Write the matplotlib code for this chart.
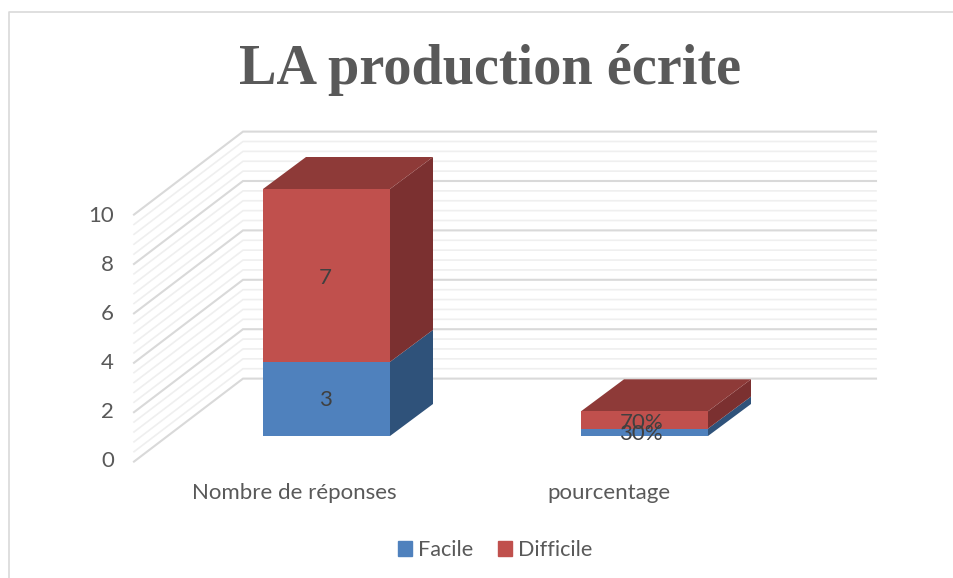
"""LA production ecrite: stacked pseudo-3D columns."""

import matplotlib
import matplotlib.pyplot as plt

matplotlib.use("Agg")

CATEGORIES = ["Nombre de réponses", "pourcentage"]
FACILE = [3, 0.3]
DIFFICILE = [7, 0.7]
FACILE_LABELS = ["3", "30%"]
DIFFICILE_LABELS = ["7", "70%"]
Y_TICKS = [0, 2, 4, 6, 8, 10]

TITLE = "LA production écrite"
BLUE, BLUE_SIDE = "#4F81BD", "#2F527A"
RED, RED_SIDE, RED_TOP = "#C0504D", "#7B3030", "#8E3A38"
GRID_MAJOR, GRID_MINOR = "#D9D9D9", "#EFEFEF"
TEXT = "#595959"
LABEL = "#404040"

W, H = 954, 578
# scale of the chart in pixels
PX_PER_CAT = 318.0
PX_PER_VAL = 24.7
X0_PX, Y0_PX = 326.5, 436.0
BAR_WIDTH = 127 / PX_PER_CAT

# oblique offset of the bar depth
DX = 43 / PX_PER_CAT
DY = 32 / PX_PER_VAL
# walls, relative to the front plane of the bars
WALL_FRONT_X = (134 - X0_PX) / PX_PER_CAT
WALL_BACK_X = (243 - X0_PX) / PX_PER_CAT
WALL_END_X = (876 - X0_PX) / PX_PER_CAT
WALL_FRONT_Y = (Y0_PX - 461.6) / PX_PER_VAL
WALL_BACK_Y = (Y0_PX - 378.6) / PX_PER_VAL

plt.rcParams["font.family"] = ["Lato", "DejaVu Sans"]

fig = plt.figure(figsize=(W / 100, H / 100), dpi=100)
ax = fig.add_axes([0, 0, 1, 1])
ax.set_xlim(-X0_PX / PX_PER_CAT, (W - X0_PX) / PX_PER_CAT)
ax.set_ylim((Y0_PX - H) / PX_PER_VAL, Y0_PX / PX_PER_VAL)
ax.axis("off")


def x_label(px):
    return (px - X0_PX) / PX_PER_CAT


def y_label(px):
    return (Y0_PX - px) / PX_PER_VAL


# chart frame, only left and top show in the image
ax.plot([x_label(9.5), x_label(9.5), x_label(954)],
        [y_label(578), y_label(11.5), y_label(11.5)],
        color=GRID_MAJOR, lw=1.2, zorder=1)

# wall gridlines, four light ones between each pair of ticks
n_steps = 25
for i in range(n_steps + 1):
    v = Y_TICKS[-1] * i / n_steps
    major = i % 5 == 0
    ax.plot(
        [WALL_FRONT_X, WALL_BACK_X, WALL_END_X],
        [WALL_FRONT_Y + v, WALL_BACK_Y + v, WALL_BACK_Y + v],
        color=GRID_MAJOR if major else GRID_MINOR,
        lw=1.5 if major else 1.2,
        zorder=2 if major else 1.5,
        solid_joinstyle="miter",
    )


def draw_column(pos, low, high, front, side):
    """Front face through ax.bar, side face as a sheared polygon."""
    ax.bar(pos, high - low, BAR_WIDTH, bottom=low, color=front, zorder=4)
    right = pos + BAR_WIDTH / 2
    ax.fill(
        [right, right + DX, right + DX, right],
        [low, low + DY, high + DY, high],
        color=side, lw=0, zorder=3.5,
    )


for pos, (fac, dif) in enumerate(zip(FACILE, DIFFICILE)):
    draw_column(pos, 0, fac, BLUE, BLUE_SIDE)
    draw_column(pos, fac, fac + dif, RED, RED_SIDE)
    top = fac + dif
    left, right = pos - BAR_WIDTH / 2, pos + BAR_WIDTH / 2
    ax.fill(
        [left, right, right + DX, left + DX],
        [top, top, top + DY, top + DY],
        color=RED_TOP, lw=0, zorder=3.6,
    )

# value labels
for pos, (fac, dif, fac_txt, dif_txt) in enumerate(
    zip(FACILE, DIFFICILE, FACILE_LABELS, DIFFICILE_LABELS)
):
    dx = -0.003 if pos == 0 else -0.01
    ax.text(pos + dx, fac / 2 - 0.06, fac_txt, color=LABEL, fontsize=16,
            ha="center", va="center", zorder=6)
    ax.text(pos + dx, fac + dif / 2 - 0.12, dif_txt, color=LABEL, fontsize=16,
            ha="center", va="center", zorder=6)

# axis labels
for tick in Y_TICKS:
    ax.text(x_label(114), WALL_FRONT_Y + tick * 0.992 + 0.04, str(tick), color=TEXT,
            fontsize=16, ha="right", va="center")
for pos, name in enumerate(CATEGORIES):
    ax.text(pos * 315 / PX_PER_CAT + x_label(294), y_label(493), name, color=TEXT,
            fontsize=16, ha="center", va="center")

ax.text(x_label(490), y_label(84), TITLE, color=TEXT, fontsize=40.5,
        fontweight="bold", family="Liberation Serif", ha="center", va="baseline")

handles = [
    plt.Rectangle((0, 0), 1, 1, color=BLUE, label="Facile"),
    plt.Rectangle((0, 0), 1, 1, color=RED, label="Difficile"),
]
leg = ax.legend(
    handles=handles, loc="center", ncol=2, frameon=False, fontsize=15.6,
    bbox_to_anchor=(495 / W, 1 - 550 / H), handlelength=0.65, handleheight=0.65,
    handletextpad=0.27, columnspacing=1.17, labelcolor=TEXT,
)

fig.savefig("out.png", dpi=100)
